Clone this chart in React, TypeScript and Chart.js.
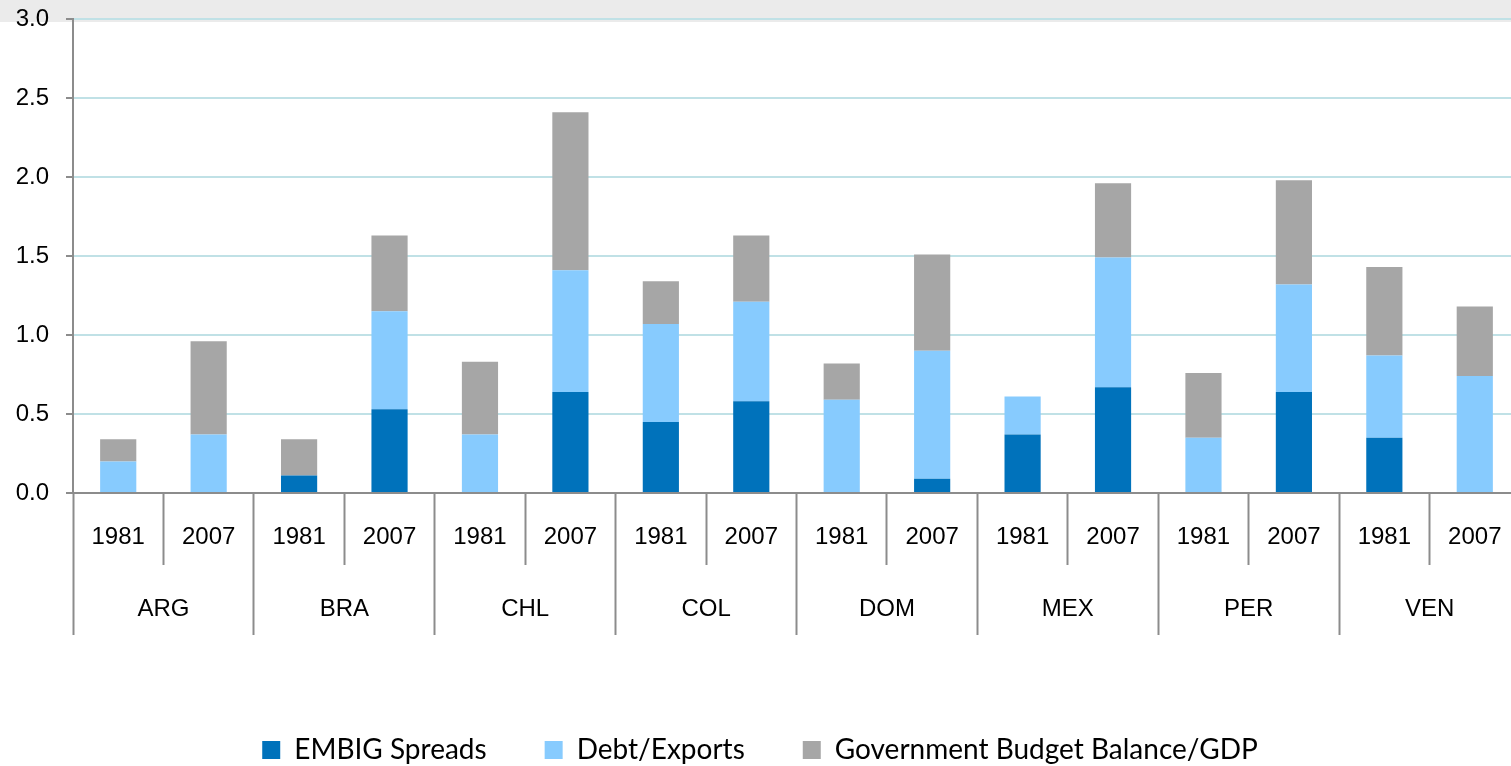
import React, { useEffect, useRef } from "react";
import { Chart, registerables } from "chart.js";

Chart.register(...registerables);

const countries = ["ARG", "BRA", "CHL", "COL", "DOM", "MEX", "PER", "VEN"];
const years = ["1981", "2007"];
const barLabels = countries.flatMap(() => years);

const embigSpreads = [0, 0, 0.11, 0.53, 0, 0.64, 0.45, 0.58, 0, 0.09, 0.37, 0.67, 0, 0.64, 0.35, 0];
const debtExports = [0.2, 0.37, 0, 0.62, 0.37, 0.77, 0.62, 0.63, 0.59, 0.81, 0.24, 0.82, 0.35, 0.68, 0.52, 0.74];
const budgetBalance = [0.14, 0.59, 0.23, 0.48, 0.46, 1.0, 0.27, 0.42, 0.23, 0.61, 0, 0.47, 0.41, 0.66, 0.56, 0.44];

const seriesNames = ["EMBIG Spreads", "Debt/Exports", "Government Budget Balance/GDP"];
const seriesColors = ["#0072BB", "#87CBFE", "#A6A6A6"];

const axisGrey = "#8c8c8c";
const tickFont = { family: "'Liberation Sans', Arial, sans-serif", size: 24 };

const CANVAS_W = 1520;
const VIEW_W = 1511;
const VIEW_H = 766;

export default function App() {
  const canvasRef = useRef<HTMLCanvasElement | null>(null);

  useEffect(() => {
    document.body.style.margin = "0";
    const canvas = canvasRef.current;
    if (!canvas) return;
    const chart = new Chart(canvas, {
      type: "bar",
      data: {
        labels: barLabels,
        datasets: [embigSpreads, debtExports, budgetBalance].map((d, i) => ({
          label: seriesNames[i],
          data: d,
          backgroundColor: seriesColors[i],
          borderWidth: 0,
          barPercentage: 0.4,
          categoryPercentage: 1,
        })),
      },
      options: {
        responsive: false,
        animation: false,
        devicePixelRatio: 1,
        layout: { padding: { top: 19, bottom: -8, left: 0, right: 0 } },
        plugins: {
          tooltip: { enabled: false },
          legend: {
            position: "bottom",
            labels: {
              boxWidth: 18,
              boxHeight: 18,
              padding: 58,
              color: "#000",
              font: { family: "Lato, 'Open Sans', sans-serif", size: 28 },
            },
          },
        },
        scales: {
          x: {
            stacked: true,
            offset: true,
            grid: {
              display: true,
              drawOnChartArea: false,
              drawTicks: true,
              offset: true,
              tickLength: 72,
              tickColor: axisGrey,
              tickWidth: 2,
            },
            border: { display: true, color: axisGrey, width: 2 },
            ticks: {
              autoSkip: false,
              maxRotation: 0,
              minRotation: 0,
              padding: -42,
              color: "#000",
              font: tickFont,
            },
            afterFit: (s: any) => {
              s.height = 72;
              s.paddingLeft = 0;
              s.paddingRight = 0;
            },
          },
          x2: {
            type: "category",
            labels: countries,
            position: "bottom",
            offset: true,
            grid: {
              display: true,
              drawOnChartArea: false,
              drawTicks: true,
              offset: true,
              tickLength: 70,
              tickColor: axisGrey,
              tickWidth: 2,
            },
            border: { display: false },
            ticks: {
              autoSkip: false,
              maxRotation: 0,
              minRotation: 0,
              padding: -40,
              color: "#000",
              font: tickFont,
            },
            afterFit: (s: any) => {
              s.height = 113;
              s.paddingLeft = 0;
              s.paddingRight = 0;
            },
          },
          y: {
            stacked: true,
            min: 0,
            max: 3,
            ticks: {
              stepSize: 0.5,
              padding: 17,
              color: "#000",
              font: tickFont,
              callback: (v: any) => Number(v).toFixed(1),
            },
            grid: {
              color: "#C0E1E6",
              lineWidth: 2,
              borderDash: [5, 3],
              drawTicks: true,
              tickLength: 7,
              tickColor: axisGrey,
              tickWidth: 2,
              tickBorderDash: [],
            },
            border: { display: true, color: axisGrey, width: 2 },
            afterFit: (s: any) => {
              s.width = 73;
              s.paddingTop = 0;
              s.paddingBottom = 0;
            },
          },
        },
      } as any,
    });
    return () => chart.destroy();
  }, []);

  return (
    <div
      style={{
        position: "relative",
        width: VIEW_W,
        height: VIEW_H,
        overflow: "hidden",
        background: "linear-gradient(to bottom, #EBEBEB 0px, #EBEBEB 22px, #FFFFFF 22px, #FFFFFF 100%)",
      }}
    >
      <canvas ref={canvasRef} width={CANVAS_W} height={VIEW_H} style={{ display: "block" }} />
    </div>
  );
}
